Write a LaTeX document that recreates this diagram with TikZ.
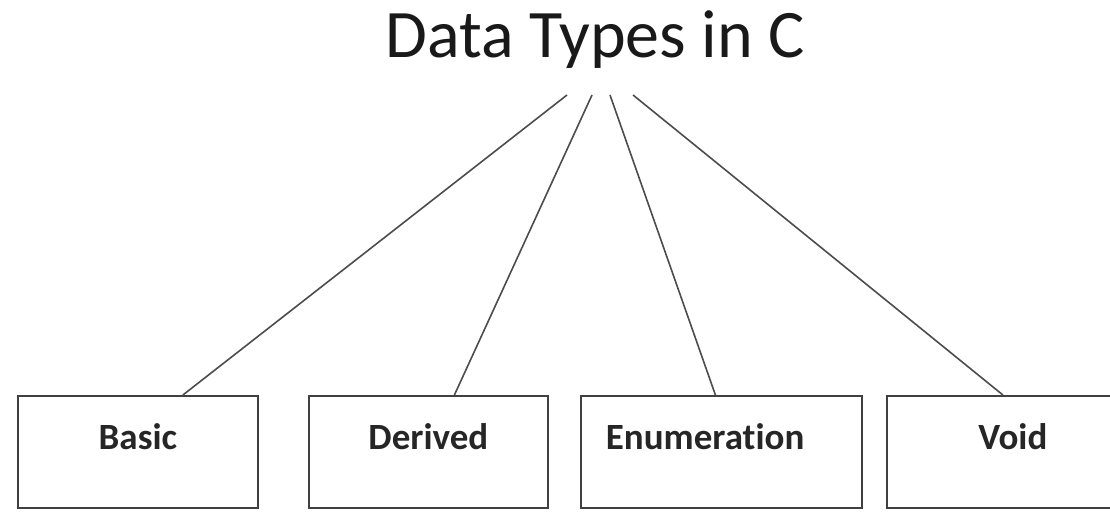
\documentclass[tikz,border=0pt]{standalone}
\usepackage{fontspec}
\setmainfont[Ligatures=NoCommon]{Carlito}
\begin{document}
\begin{tikzpicture}[x=1pt, y=-1pt,
    box/.style={draw=black!75, line width=1.8pt, anchor=north west, inner sep=0pt,
      text height=54pt, text depth=58pt, font=\fontsize{37}{44}\selectfont\bfseries, text=black!85},
    branch/.style={draw=black!70, line width=1.6pt}]
    \clip (0, 0) rectangle (1110, 511);
    \node[font=\fontsize{68}{80}\selectfont, text=black!90, anchor=base] (title) at (595, 57) {Data Types in C};
    \node[box, minimum width=240pt] (basic) at (17, 395) {Basic};
    \node[box, minimum width=239pt] (derived) at (308, 395) {Derived};
    \node[box, text width=231pt, inner xsep=25pt, align=left] (enum) at (580, 395) {Enumeration};
    \node[box, minimum width=252pt] (void) at (886, 395) {Void};
    \coordinate (t1) at (567, 95);
    \coordinate (t2) at (592, 95);
    \coordinate (t3) at (610, 95);
    \coordinate (t4) at (633, 95);
    \draw[branch] (t1) -- ([xshift=45pt]basic.north);
    \draw[branch] (t2) -- ([xshift=26pt]derived.north);
    \draw[branch] (t3) -- ([xshift=-6pt]enum.north);
    \draw[branch] (t4) -- ([xshift=-10pt]void.north);
\end{tikzpicture}
\end{document}
